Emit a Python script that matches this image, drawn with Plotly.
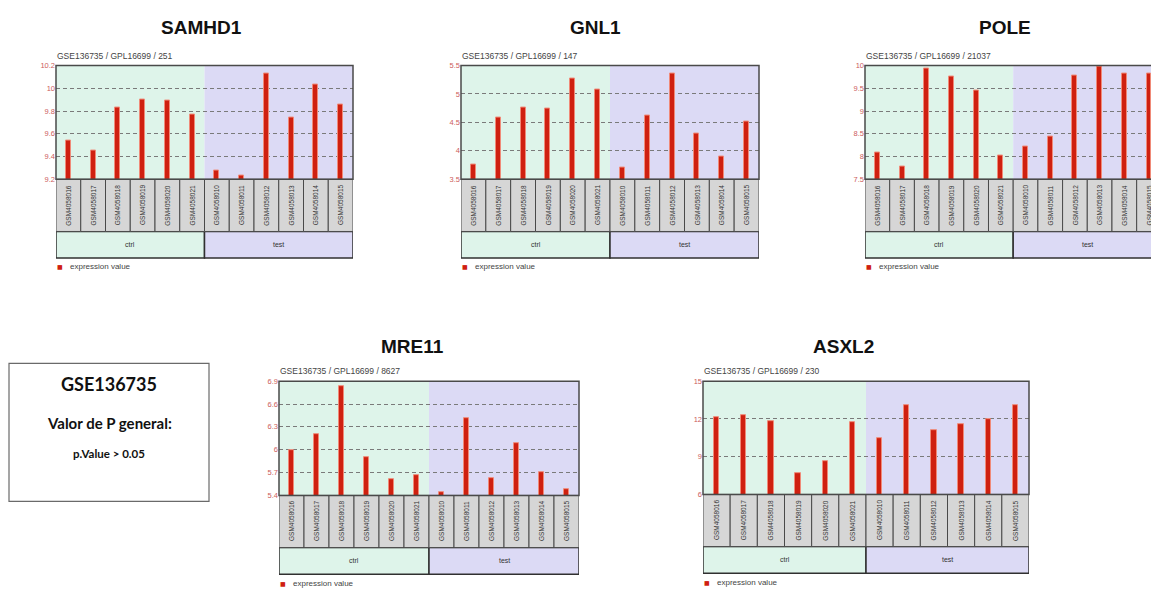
import plotly.graph_objects as go

OFF = 0
W, H = 1151, 591

samples = ["GSM4058016", "GSM4058017", "GSM4058018", "GSM4058019", "GSM4058020", "GSM4058021",
           "GSM4058010", "GSM4058011", "GSM4058012", "GSM4058013", "GSM4058014", "GSM4058015"]
group_names = ["ctrl", "test"]
group_sizes = [6, 6]

genes = ["SAMHD1", "GNL1", "POLE", "MRE11", "ASXL2"]
subtitles = ["GSE136735 / GPL16699 / 251", "GSE136735 / GPL16699 / 147",
             "GSE136735 / GPL16699 / 21037", "GSE136735 / GPL16699 / 8627",
             "GSE136735 / GPL16699 / 230"]

samhd1 = [9.54, 9.455, 9.83, 9.90, 9.89, 9.77, 9.28, 9.23, 10.13, 9.74, 10.03, 9.86]
gnl1 = [3.755, 4.59, 4.76, 4.75, 5.27, 5.07, 3.70, 4.62, 5.36, 4.30, 3.90, 4.52]
pole = [8.08, 7.77, 9.94, 9.75, 9.44, 8.03, 8.23, 8.43, 9.77, 9.97, 9.83, 9.82]
mre11 = [6.00, 6.21, 6.84, 5.90, 5.61, 5.67, 5.44, 6.42, 5.63, 6.08, 5.71, 5.48]
asxl2 = [12.10, 12.31, 11.82, 7.70, 8.66, 11.74, 10.51, 13.10, 11.09, 11.56, 12.00, 13.10]
values = [samhd1, gnl1, pole, mre11, asxl2]

y_min = [9.2, 3.5, 7.5, 5.4, 6]
y_max = [10.2, 5.5, 10, 6.9, 15]
y_step = [0.2, 0.5, 0.5, 0.3, 3]

box_title = "GSE136735"
box_line1 = "Valor de P general:"
box_line2 = "p.Value > 0.05"

# panel geometry in page pixels: left, right, top, bottom, x-range end, title x, title y, legend y
panels = [
    dict(l=56, r=353, t=62.5, b=178, xend=11.5, tx=201, ty=24, ly=267),
    dict(l=461, r=759, t=62.5, b=178, xend=11.5, tx=596, ty=24, ly=267),
    dict(l=865, r=1151, t=62.5, b=178, xend=11.08, tx=1005, ty=24, ly=267),
    dict(l=279, r=579, t=383, b=499, xend=11.5, tx=412, ty=348, ly=588),
    dict(l=703, r=1029, t=383, b=498, xend=11.5, tx=843, ty=348, ly=587),
]

def xp(px):
    return (px - OFF) / W

def yp(py):
    return 1 - (py - OFF) / H

bg_colors = ["#def4ea", "#dcdaf5"]
BAR = "#cf2010"
FRAME = "#4a4a4a"

fig = go.Figure()
shapes = []
annotations = []
layout_axes = {}

def ann(**kw):
    kw.setdefault("showarrow", False)
    kw.setdefault("xanchor", "center")
    kw.setdefault("yanchor", "middle")
    annotations.append(kw)

for k, (gene, vals) in enumerate(zip(genes, values)):
    p = panels[k]
    idx = "" if k == 0 else str(k + 1)
    xa, ya = "x" + idx, "y" + idx
    fig.add_trace(go.Bar(
        x=samples, y=vals, xaxis=xa, yaxis=ya, width=0.2,
        marker=dict(color=BAR, line=dict(color="#f08a78", width=1)),
        showlegend=False, hoverinfo="x+y"))
    layout_axes["xaxis" + idx] = dict(
        domain=[xp(p["l"]), min(1.0, xp(p["r"]))], anchor=ya, type="category",
        categoryorder="array", categoryarray=samples,
        range=[-0.5, p["xend"]], showticklabels=False, showgrid=False,
        zeroline=False, showline=False, ticks="", fixedrange=True)
    layout_axes["yaxis" + idx] = dict(
        domain=[yp(p["b"]), yp(p["t"])], anchor=xa,
        range=[y_min[k], y_max[k]], tick0=y_min[k], dtick=y_step[k],
        showgrid=True, gridcolor="#7a7a7a", griddash="4px,3px", gridwidth=1,
        zeroline=False, showline=False, ticks="",
        tickfont=dict(size=7.5, color="#cc5c5c", family="Liberation Sans"),
        fixedrange=True)

    h = p["b"] - p["t"]
    lab_bot = -53 / h
    grp_bot = -(53 + 27) / h
    xd = xa + " domain"
    yd = ya + " domain"

    start = 0
    for g, (gname, gs) in enumerate(zip(group_names, group_sizes)):
        x0, x1 = start - 0.5, start + gs - 0.5
        shapes.append(dict(type="rect", xref=xa, yref=yd, x0=x0, x1=x1, y0=0, y1=1,
                           fillcolor=bg_colors[g], line=dict(width=0), layer="below"))
        shapes.append(dict(type="rect", xref=xa, yref=yd, x0=x0, x1=x1, y0=grp_bot, y1=lab_bot,
                           fillcolor=bg_colors[g], line=dict(color="#303030", width=1.5), layer="above"))
        ann(x=(x0 + x1) / 2, y=(grp_bot + lab_bot) / 2, xref=xa, yref=yd, text=gname,
            font=dict(size=7, color="#333333", family="Liberation Sans"))
        start += gs

    for i, s in enumerate(samples):
        shapes.append(dict(type="rect", xref=xa, yref=yd, x0=i - 0.5, x1=i + 0.5, y0=lab_bot, y1=0,
                           fillcolor="#d6d6d6", line=dict(color="#4a4a4a", width=1), layer="above"))
        ann(x=s, y=lab_bot / 2, xref=xa, yref=yd, text=s, textangle=-90,
            font=dict(size=6.5, color="#333333", family="Liberation Sans"))

    fx1 = (11.5 + 0.5) / (p["xend"] + 0.5)
    shapes.append(dict(type="rect", xref=xd, yref=yd, x0=0, x1=fx1, y0=0, y1=1,
                       line=dict(color=FRAME, width=1.5), layer="above"))

    ann(x=xp(p["tx"]), y=yp(p["ty"]), xref="paper", yref="paper", text="<b>" + gene + "</b>",
        font=dict(size=19, color="#111111", family="Liberation Sans"))
    ann(x=xp(p["l"] - 1), y=yp(p["t"] - 10), xref="paper", yref="paper", text=subtitles[k],
        xanchor="left", font=dict(size=8.5, color="#444444", family="Liberation Sans"))
    ann(x=xp(p["l"] + 4), y=yp(p["ly"]), xref="paper", yref="paper", text="■",
        font=dict(size=6, color=BAR, family="DejaVu Sans"))
    ann(x=xp(p["l"] + 12), y=yp(p["ly"]), xref="paper", yref="paper", text="expression value",
        xanchor="left", font=dict(size=8, color="#444444", family="Liberation Sans"))

# info box
shapes.append(dict(type="rect", xref="paper", yref="paper", x0=xp(9), x1=xp(209), y0=yp(505), y1=yp(365),
                   line=dict(color="#6a6a6a", width=1.2), fillcolor="white"))
ann(x=xp(109), y=yp(386), xref="paper", yref="paper", text="<b>" + box_title + "</b>",
    font=dict(size=18, color="#111111", family="Lato"))
ann(x=xp(109), y=yp(425), xref="paper", yref="paper", text="<b>" + box_line1 + "</b>",
    font=dict(size=15, color="#111111", family="Lato"))
ann(x=xp(109), y=yp(456), xref="paper", yref="paper", text="<b>" + box_line2 + "</b>",
    font=dict(size=11.5, color="#111111", family="Lato"))

fig.update_layout(
    width=W, height=H, margin=dict(l=0, r=0, t=0, b=0),
    paper_bgcolor="white", plot_bgcolor="white", bargap=0,
    shapes=shapes, annotations=annotations, **layout_axes)

fig.write_html(
    "out.html",
    config={"displayModeBar": False},
    post_script="document.body.style.margin='0';document.documentElement.style.overflow='hidden';")
